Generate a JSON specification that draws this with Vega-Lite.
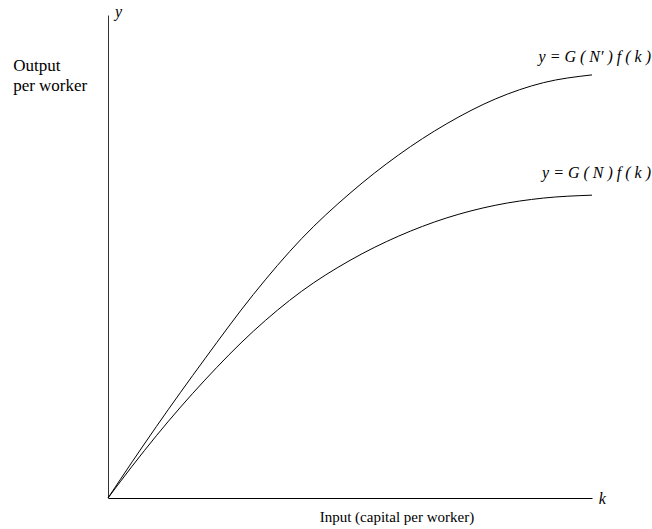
{
  "$schema": "https://vega.github.io/schema/vega-lite/v6.json",
  "width": 484,
  "height": 483,
  "autosize": {"type": "none"},
  "padding": {"left": 108, "top": 15, "right": 60, "bottom": 31},
  "background": "white",
  "config": {"view": {"stroke": null}},
  "datasets": {
    "curves": [
      {"series": "upper", "k": 0, "y": 0},
      {"series": "upper", "k": 5, "y": 7.5},
      {"series": "upper", "k": 10, "y": 14.8},
      {"series": "upper", "k": 20, "y": 28.8},
      {"series": "upper", "k": 30, "y": 42.1},
      {"series": "upper", "k": 40, "y": 53.7},
      {"series": "upper", "k": 50, "y": 63.1},
      {"series": "upper", "k": 60, "y": 71.0},
      {"series": "upper", "k": 70, "y": 77.5},
      {"series": "upper", "k": 80, "y": 82.6},
      {"series": "upper", "k": 90, "y": 86.0},
      {"series": "upper", "k": 100, "y": 87.6},
      {"series": "lower", "k": 0, "y": 0},
      {"series": "lower", "k": 5, "y": 6.6},
      {"series": "lower", "k": 10, "y": 12.9},
      {"series": "lower", "k": 20, "y": 24.4},
      {"series": "lower", "k": 30, "y": 34.5},
      {"series": "lower", "k": 40, "y": 42.8},
      {"series": "lower", "k": 50, "y": 49.2},
      {"series": "lower", "k": 60, "y": 54.2},
      {"series": "lower", "k": 70, "y": 58.0},
      {"series": "lower", "k": 80, "y": 60.6},
      {"series": "lower", "k": 90, "y": 62.1},
      {"series": "lower", "k": 100, "y": 62.7}
    ],
    "labels": [
      {"text": "y = G ( N′ ) f ( k )", "k": 112.2, "y": 91.3, "kind": "curve"},
      {"text": "y = G ( N ) f ( k )", "k": 112.2, "y": 67.2, "kind": "curve"},
      {"text": "y", "k": 1.45, "y": 100.6, "kind": "axis"},
      {"text": "k", "k": 101.4, "y": -0.2, "kind": "axis"},
      {"text": "Output", "k": -19.6, "y": 89.5, "kind": "side"},
      {"text": "per worker", "k": -19.6, "y": 85.4, "kind": "side"},
      {"text": "Input (capital per worker)", "k": 59.7, "y": -3.9, "kind": "bottom"}
    ]
  },
  "layer": [
    {
      "data": {"name": "curves"},
      "mark": {"type": "line", "interpolate": "monotone", "color": "black", "strokeWidth": 1},
      "encoding": {
        "x": {"field": "k", "type": "quantitative", "scale": {"domain": [0, 100], "nice": false, "zero": true},
          "axis": {"title": null, "labels": false, "ticks": false, "grid": false, "domain": true, "domainColor": "black", "domainWidth": 1}},
        "y": {"field": "y", "type": "quantitative", "scale": {"domain": [0, 100], "nice": false, "zero": true},
          "axis": {"title": null, "labels": false, "ticks": false, "grid": false, "domain": true, "domainColor": "#333333", "domainWidth": 1}},
        "detail": {"field": "series"}
      }
    },
    {
      "data": {"name": "labels"},
      "transform": [{"filter": "datum.kind === 'curve'"}],
      "mark": {"type": "text", "align": "right", "baseline": "middle", "font": "Liberation Serif", "fontSize": 16, "fontStyle": "italic", "color": "black"},
      "encoding": {
        "x": {"field": "k", "type": "quantitative"},
        "y": {"field": "y", "type": "quantitative"},
        "text": {"field": "text"}
      }
    },
    {
      "data": {"name": "labels"},
      "transform": [{"filter": "datum.kind === 'axis'"}],
      "mark": {"type": "text", "align": "left", "baseline": "middle", "font": "Liberation Serif", "fontSize": 16, "fontStyle": "italic", "color": "black"},
      "encoding": {
        "x": {"field": "k", "type": "quantitative"},
        "y": {"field": "y", "type": "quantitative"},
        "text": {"field": "text"}
      }
    },
    {
      "data": {"name": "labels"},
      "transform": [{"filter": "datum.kind === 'side'"}],
      "mark": {"type": "text", "align": "left", "baseline": "middle", "font": "Liberation Serif", "fontSize": 17, "color": "black"},
      "encoding": {
        "x": {"field": "k", "type": "quantitative"},
        "y": {"field": "y", "type": "quantitative"},
        "text": {"field": "text"}
      }
    },
    {
      "data": {"name": "labels"},
      "transform": [{"filter": "datum.kind === 'bottom'"}],
      "mark": {"type": "text", "align": "center", "baseline": "middle", "font": "Liberation Serif", "fontSize": 15, "color": "black"},
      "encoding": {
        "x": {"field": "k", "type": "quantitative"},
        "y": {"field": "y", "type": "quantitative"},
        "text": {"field": "text"}
      }
    }
  ]
}
